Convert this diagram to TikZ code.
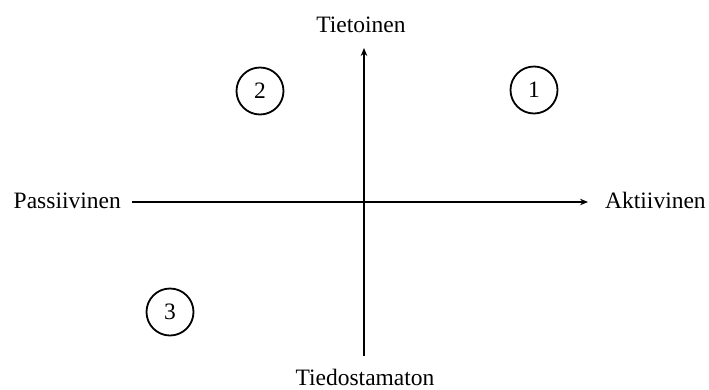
\documentclass[tikz,border=0pt]{standalone}
\usepackage{fontspec}
\setmainfont{Liberation Serif}
\usetikzlibrary{arrows.meta}
\begin{document}
\begin{tikzpicture}[x=1pt,y=-1pt,
  lbl/.style={inner sep=0pt,font=\fontsize{23.5}{27}\selectfont},
  num/.style={circle,draw,line width=1.8pt,minimum size=47pt,inner sep=0pt,font=\fontsize{23.5}{27}\selectfont},
  axis/.style={line width=1.2pt,-{Stealth[length=8pt,width=6.5pt]}}]
\useasboundingbox (0,0) rectangle (709,389);
\node[lbl,anchor=base] (top) at (361,32) {Tietoinen};
\node[lbl,anchor=base] (bot) at (365,385) {Tiedostamaton};
\node[lbl,anchor=base east] (left) at (121,208) {Passiivinen};
\node[lbl,anchor=base west] (right) at (605,208) {Aktiivinen};
\coordinate (hs) at (132,202);
\coordinate (he) at (588,202);
\coordinate (vs) at (364,356);
\coordinate (ve) at (364,48);
\draw[axis] (hs) -- (he);
\draw[axis] (vs) -- (ve);
\node[num] (c1) at (534,90) {1};
\node[num] (c2) at (260,91) {2};
\node[num] (c3) at (170,312) {3};
\end{tikzpicture}
\end{document}
